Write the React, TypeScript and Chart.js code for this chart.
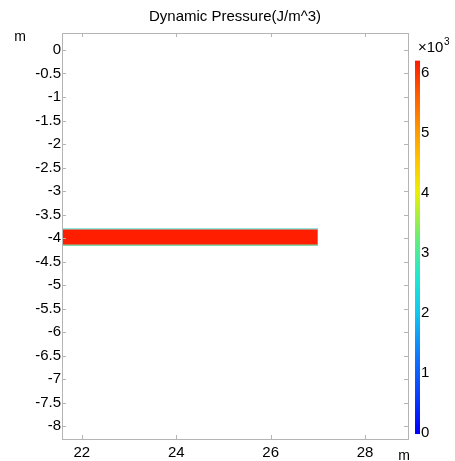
import React, { useEffect, useRef } from "react";
import { Chart, registerables } from "chart.js";

Chart.register(...registerables);

const TITLE = "Dynamic Pressure(J/m^3)";
const UNIT = "m";
const CB_EXP_BASE = "×10";
const CB_EXP = "3";

const X_TICKS = [22, 24, 26, 28];
const Y_TICKS = [0, -0.5, -1, -1.5, -2, -2.5, -3, -3.5, -4, -4.5, -5, -5.5, -6, -6.5, -7, -7.5, -8];
const X_RANGE = [21.58, 28.91];
const Y_RANGE = [-8.27, 0.36];

// bar (the solid body) in metres
const BAR_X = [21.5, 27.0];
const BAR_TOP = [-3.8, -3.8];
const BAR_BOTTOM = [-4.15, -4.15];

// colour bar (×10^3 J/m^3)
const CB_TICKS = [0, 1, 2, 3, 4, 5, 6];
const CB_RANGE = [0, 6.2];
const CB_AXIS = [-0.099, 6.66];
const CB_STOPS = [0, 0.6, 1.2, 2.0, 2.6, 3.2, 4.0, 4.5, 5.0, 5.6, 6.2];
const CB_COLORS = ["#0000ff", "#0a3cff", "#1070ff", "#10c8f0", "#20e8d0", "#60ee80", "#eaf000", "#ffc800", "#ff9c00", "#ff6000", "#ff1a00"];

const FONT = "'Liberation Sans', Arial, Helvetica, sans-serif";

const framePlugin = {
  id: "framePlugin",
  afterDraw(chart: any) {
    const { ctx, chartArea: a, scales } = chart;
    const xs = scales.x;
    const ys = scales.y;
    const cb = scales.cb;
    ctx.save();
    // frame
    ctx.strokeStyle = "#b4b4b4";
    ctx.lineWidth = 1;
    ctx.strokeRect(Math.round(a.left) + 0.5, Math.round(a.top) + 0.5, Math.round(a.right - a.left), Math.round(a.bottom - a.top));
    // inward ticks
    const tl = 4;
    ctx.beginPath();
    xs.ticks.forEach((t: any) => {
      const px = Math.round(xs.getPixelForValue(t.value)) + 0.5;
      ctx.moveTo(px, a.bottom);
      ctx.lineTo(px, a.bottom - tl);
      ctx.moveTo(px, a.top);
      ctx.lineTo(px, a.top + tl);
    });
    ys.ticks.forEach((t: any) => {
      const py = Math.round(ys.getPixelForValue(t.value)) + 0.5;
      ctx.moveTo(a.left, py);
      ctx.lineTo(a.left + tl, py);
      ctx.moveTo(a.right, py);
      ctx.lineTo(a.right - tl, py);
    });
    ctx.stroke();

    // colour bar
    const y0 = cb.getPixelForValue(CB_RANGE[0]);
    const y1 = cb.getPixelForValue(CB_RANGE[1]);
    const grad = ctx.createLinearGradient(0, y0, 0, y1);
    const span = CB_RANGE[1] - CB_RANGE[0];
    CB_STOPS.forEach((v, i) => grad.addColorStop((v - CB_RANGE[0]) / span, CB_COLORS[i]));
    ctx.fillStyle = grad;
    const bx = cb.left + 7;
    ctx.fillRect(bx, y1, 5, y0 - y1 + 1);

    // units and exponent
    ctx.fillStyle = "#000";
    ctx.font = `14px ${FONT}`;
    ctx.textAlign = "center";
    ctx.textBaseline = "middle";
    ctx.fillText(UNIT, 20, 37);
    ctx.fillText(UNIT, a.right - 4, 456);
    ctx.textAlign = "left";
    ctx.font = `15px ${FONT}`;
    ctx.fillText(CB_EXP_BASE, bx + 3, 48);
    const w = ctx.measureText(CB_EXP_BASE).width;
    ctx.font = `10px ${FONT}`;
    ctx.fillText(CB_EXP, bx + 3 + w + 0.5, 42);
    ctx.restore();
  },
};

export default function App() {
  const ref = useRef<HTMLCanvasElement | null>(null);
  useEffect(() => {
    if (!ref.current) return;
    const tickFont = { size: 15, family: FONT };
    const chart = new Chart(ref.current, {
      type: "line",
      data: {
        datasets: [
          {
            label: "top",
            data: BAR_X.map((x, i) => ({ x, y: BAR_TOP[i] })),
            borderColor: "#8fe6e0",
            borderWidth: 1.5,
            pointRadius: 0,
            fill: false,
          },
          {
            label: "bottom",
            data: BAR_X.map((x, i) => ({ x, y: BAR_BOTTOM[i] })),
            borderColor: "#7fd8a8",
            borderWidth: 1.5,
            pointRadius: 0,
            fill: "-1",
            backgroundColor: "#ff1e00",
          },
        ],
      },
      options: {
        animation: false,
        responsive: true,
        maintainAspectRatio: false,
        layout: { padding: 0 },
        plugins: {
          legend: { display: false },
          tooltip: { enabled: false },
          title: {
            display: true,
            text: TITLE,
            fullSize: false,
            color: "#000",
            font: { size: 15, family: FONT, weight: "normal" },
            padding: { top: 7.5, bottom: 7.5 },
          },
        },
        scales: {
          x: {
            type: "linear",
            position: "bottom",
            min: X_RANGE[0],
            max: X_RANGE[1],
            afterBuildTicks: (s: any) => {
              s.ticks = X_TICKS.map((v) => ({ value: v }));
            },
            afterFit: (s: any) => {
              s.height = 18;
            },
            grid: { display: false, drawTicks: false },
            border: { display: false },
            ticks: { padding: 5, color: "#000", font: tickFont, maxRotation: 0, autoSkip: false, callback: (v: any) => String(v) },
          },
          y: {
            type: "linear",
            position: "left",
            min: Y_RANGE[0],
            max: Y_RANGE[1],
            afterBuildTicks: (s: any) => {
              s.ticks = Y_TICKS.map((v) => ({ value: v }));
            },
            afterFit: (s: any) => {
              s.width = 62;
            },
            grid: { display: false, drawTicks: false },
            border: { display: false },
            ticks: { padding: 1, color: "#000", font: tickFont, autoSkip: false, callback: (v: any) => String(v) },
          },
          cb: {
            type: "linear",
            position: "right",
            min: CB_AXIS[0],
            max: CB_AXIS[1],
            afterBuildTicks: (s: any) => {
              s.ticks = CB_TICKS.map((v) => ({ value: v }));
            },
            afterFit: (s: any) => {
              s.width = 47;
            },
            grid: { display: false, drawTicks: false },
            border: { display: false },
            ticks: { padding: 13, color: "#000", font: tickFont, autoSkip: false, callback: (v: any) => String(v) },
          },
        },
      },
      plugins: [framePlugin],
    } as any);
    return () => chart.destroy();
  }, []);
  return (
    <div style={{ position: "fixed", left: 0, top: 0, width: 455, height: 461, background: "#fff" }}>
      <canvas ref={ref} />
    </div>
  );
}
